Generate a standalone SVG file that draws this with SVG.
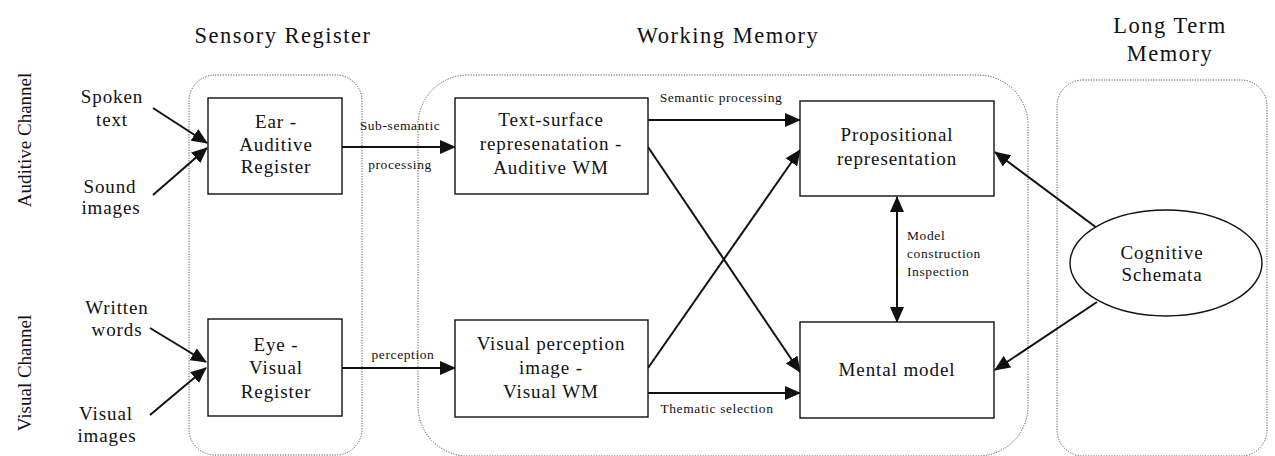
<svg xmlns="http://www.w3.org/2000/svg" width="1275" height="456" viewBox="0 0 1275 456">
  <style>
    text { font-family: "Liberation Serif", "Times New Roman", serif; fill: #111; text-anchor: middle; }
    .title { font-size: 22.5px; letter-spacing: 1.5px; }
    .chan { font-size: 19px; }
    .big { font-size: 19px; letter-spacing: 0.9px; }
    .lbl { font-size: 13.5px; letter-spacing: 0.6px; }
    .start { text-anchor: start; }
    .zone { fill: none; stroke: #555; stroke-width: 1; stroke-dasharray: 1.2 1.4; }
    .box rect, .ell ellipse { fill: #fff; stroke: #111; stroke-width: 1.4; }
    .conn line { stroke: #111; stroke-width: 2; marker-end: url(#head); }
  </style>
  <defs>
    <marker id="head" markerUnits="userSpaceOnUse" markerWidth="16" markerHeight="14" viewBox="0 0 16 14" refX="15" refY="7" orient="auto-start-reverse">
      <path d="M0,0 L16,7 L0,14 Z" fill="#111"/>
    </marker>
  </defs>

  <rect width="1275" height="456" fill="#fff"/>

  <!-- Memory stores (dotted zones) -->
  <g id="zones">
    <rect class="zone" x="189" y="75" width="173" height="380" rx="26"/>
    <rect class="zone" x="418" y="75" width="610" height="381" rx="50"/>
    <rect class="zone" x="1057" y="80" width="210" height="376" rx="26"/>
  </g>

  <!-- Headings -->
  <g id="headings">
    <text class="title" x="283" y="43">Sensory Register</text>
    <text class="title" x="728" y="43">Working Memory</text>
    <text class="title" x="1170" y="33">Long Term</text>
    <text class="title" x="1170" y="61">Memory</text>
    <text class="chan" transform="translate(31,140) rotate(-90)">Auditive Channel</text>
    <text class="chan" transform="translate(31,373) rotate(-90)">Visual Channel</text>
  </g>

  <!-- Inputs -->
  <g id="inputs" class="big">
    <text x="112" y="103">Spoken</text>
    <text x="112" y="126">text</text>
    <text x="110" y="193">Sound</text>
    <text x="111" y="214">images</text>
    <text x="117" y="314">Written</text>
    <text x="117" y="336">words</text>
    <text x="106" y="420">Visual</text>
    <text x="107" y="442">images</text>
  </g>

  <!-- Connectors -->
  <g id="connectors" class="conn">
    <line x1="153" y1="108" x2="207" y2="143"/>
    <line x1="153" y1="195" x2="207" y2="148"/>
    <line x1="150" y1="328" x2="206" y2="362"/>
    <line x1="150" y1="415" x2="206" y2="368"/>
    <line x1="342" y1="147" x2="455" y2="147"/>
    <line x1="342" y1="368" x2="455" y2="368"/>
    <line x1="648" y1="120" x2="800" y2="120"/>
    <line x1="648" y1="147" x2="800" y2="372"/>
    <line x1="648" y1="368" x2="800" y2="150"/>
    <line x1="648" y1="393" x2="800" y2="393"/>
    <line x1="897" y1="197" x2="897" y2="322" style="marker-start: url(#head)"/>
    <line x1="1097" y1="228" x2="995" y2="152"/>
    <line x1="1097" y1="302" x2="995" y2="370"/>
  </g>

  <!-- Connector labels -->
  <g id="labels" class="lbl">
    <text x="400" y="130">Sub-semantic</text>
    <text x="400" y="169">processing</text>
    <text x="403" y="359">perception</text>
    <text x="721" y="102">Semantic processing</text>
    <text x="717" y="413">Thematic selection</text>
    <text class="start" x="907" y="240">Model</text>
    <text class="start" x="907" y="258">construction</text>
    <text class="start" x="907" y="276">Inspection</text>
  </g>

  <!-- Sensory register nodes -->
  <g id="ear-register" class="box big">
    <rect x="208" y="98" width="134" height="96"/>
    <text x="276" y="128">Ear -</text>
    <text x="276" y="151">Auditive</text>
    <text x="276" y="173">Register</text>
  </g>
  <g id="eye-register" class="box big">
    <rect x="208" y="319" width="134" height="97"/>
    <text x="276" y="351">Eye -</text>
    <text x="276" y="374">Visual</text>
    <text x="276" y="398">Register</text>
  </g>

  <!-- Working memory nodes -->
  <g id="text-surface" class="box big">
    <rect x="455" y="98" width="193" height="96"/>
    <text x="551" y="126">Text-surface</text>
    <text x="551" y="150">represenatation -</text>
    <text x="551" y="174">Auditive WM</text>
  </g>
  <g id="visual-perception" class="box big">
    <rect x="455" y="320" width="193" height="97"/>
    <text x="551" y="350">Visual perception</text>
    <text x="551" y="374">image -</text>
    <text x="551" y="398">Visual WM</text>
  </g>
  <g id="propositional" class="box big">
    <rect x="800" y="101" width="194" height="95"/>
    <text x="897" y="141">Propositional</text>
    <text x="897" y="165">representation</text>
  </g>
  <g id="mental-model" class="box big">
    <rect x="800" y="322" width="194" height="96"/>
    <text x="897" y="376">Mental model</text>
  </g>

  <!-- Long term memory node -->
  <g id="cognitive-schemata" class="ell big">
    <ellipse cx="1166" cy="263" rx="96" ry="53"/>
    <text x="1162" y="259">Cognitive</text>
    <text x="1162" y="281">Schemata</text>
  </g>
</svg>
